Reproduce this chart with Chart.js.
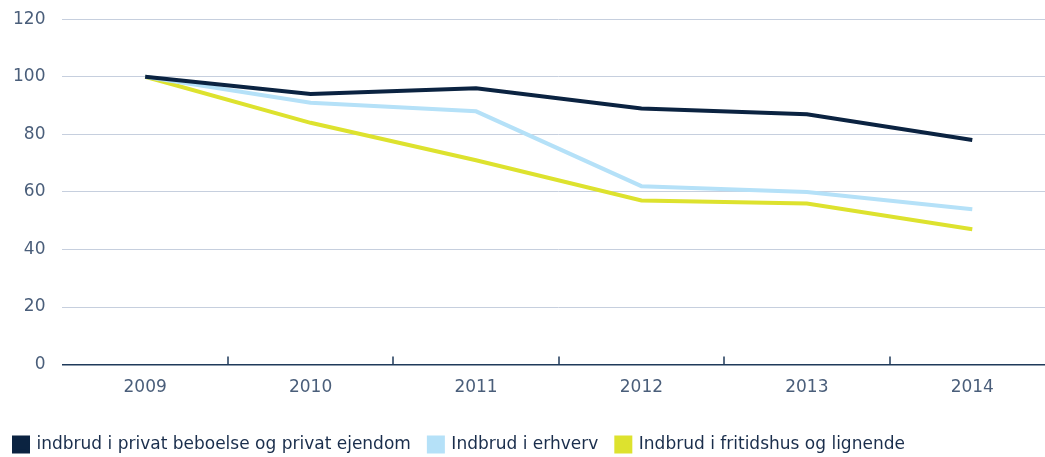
<!DOCTYPE html>
<html>
<head>
<meta charset="utf-8">
<script src="https://cdn.jsdelivr.net/npm/chart.js@4"></script>
<style>
  html, body { margin: 0; padding: 0; background: #fff; overflow: hidden; }
  .chart-container { position: relative; width: 1055px; height: 465px; margin-top: -8px; }
</style>
</head>
<body>
<div class="chart-container">
  <canvas class="chart-canvas"></canvas>
</div>
<script>
const years = ['2009', '2010', '2011', '2012', '2013', '2014'];
const privatValues = [100, 94, 96, 89, 87, 78];
const erhvervValues = [100, 91, 88, 62, 60, 54];
const fritidValues = [100, 84, 71, 57, 56, 47];
const seriesNames = [
    'indbrud i privat beboelse og privat ejendom',
    'Indbrud i erhverv',
    'Indbrud i fritidshus og lignende'
];
const colorsArray = ['#0b2341', '#b5e1f8', '#dde22e'];

const textColor = '#4a5e7a';
const fontFamily = '"DejaVu Sans", sans-serif';

// small tick marks pointing up from the x axis, between categories
const betweenTicks = {
    id: 'betweenTicks',
    afterDraw(chart) {
        const x = chart.scales.x;
        const ctx = chart.ctx;
        ctx.save();
        ctx.strokeStyle = '#1f3a5a';
        ctx.lineWidth = 1.5;
        for (let i = 1; i < years.length; i++) {
            const px = Math.round((x.getPixelForValue(i - 1) + x.getPixelForValue(i)) / 2);
            ctx.beginPath();
            ctx.moveTo(px, x.top);
            ctx.lineTo(px, x.top - 8);
            ctx.stroke();
        }
        ctx.restore();
    }
};

const makeSet = (label, data, color) => ({
    label,
    data,
    borderColor: color,
    backgroundColor: color,
    borderWidth: 4,
    pointRadius: 0,
    tension: 0,
    fill: false
});

new Chart(document.querySelector('.chart-canvas'), {
    type: 'line',
    data: {
        labels: years,
        datasets: [
            makeSet(seriesNames[0], privatValues, colorsArray[0]),
            makeSet(seriesNames[1], erhvervValues, colorsArray[1]),
            makeSet(seriesNames[2], fritidValues, colorsArray[2])
        ]
    },
    options: {
        responsive: true,
        maintainAspectRatio: false,
        animation: false,
        layout: { padding: { top: 0, left: -4, right: 0, bottom: -6 } },
        plugins: {
            tooltip: { enabled: false },
            legend: {
                display: true,
                position: 'bottom',
                align: 'start',
                labels: {
                    boxWidth: 14,
                    boxHeight: 14,
                    padding: 18,
                    color: '#1a2e4c',
                    font: { family: fontFamily, size: 17 }
                }
            }
        },
        scales: {
            x: {
                offset: true,
                grid: { display: false },
                border: { display: true, color: '#1f3a5a', width: 1.5 },
                ticks: {
                    color: textColor,
                    padding: 5,
                    font: { family: fontFamily, size: 17 }
                },
                afterFit(scale) { scale.height += 15; }
            },
            y: {
                min: 0,
                max: 120,
                ticks: {
                    stepSize: 20,
                    color: textColor,
                    padding: 17,
                    font: { family: fontFamily, size: 17 }
                },
                grid: { color: '#c6cfde', lineWidth: 1, drawTicks: false },
                border: { display: false }
            }
        }
    },
    plugins: [betweenTicks]
});
</script>
</body>
</html>
